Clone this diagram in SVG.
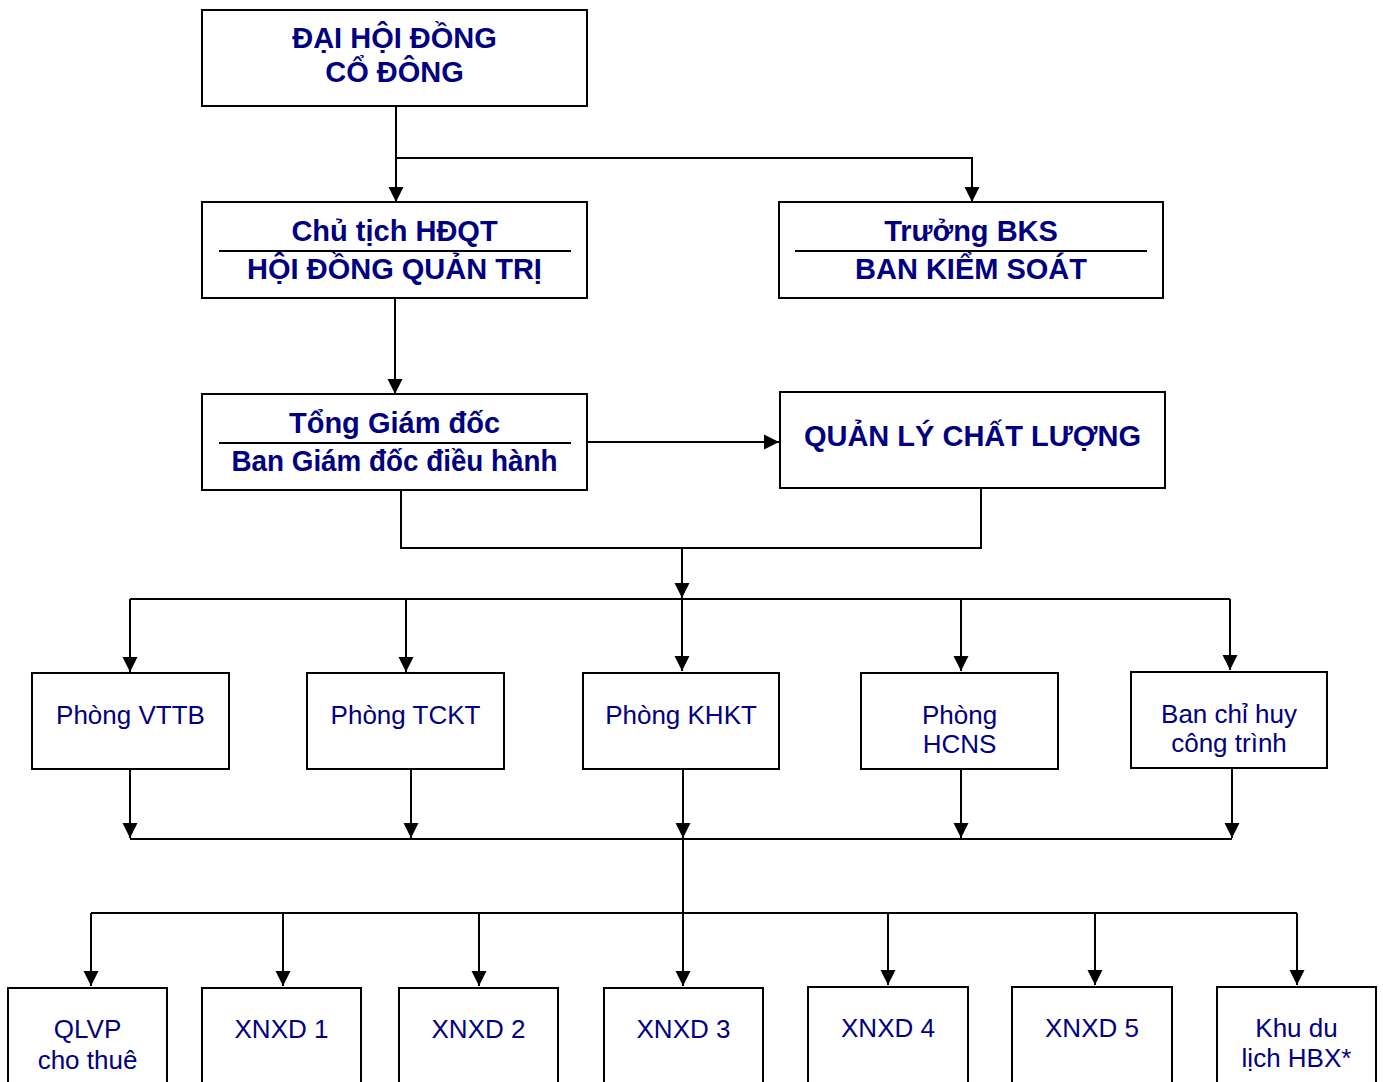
<svg xmlns="http://www.w3.org/2000/svg" width="1383" height="1082" viewBox="0 0 1383 1082">
<style>
.box{fill:#fff;stroke:#000;stroke-width:2}
.div{stroke:#000;stroke-width:2}
.b{font-family:"Liberation Sans",Arial,sans-serif;font-weight:bold;font-size:29px;fill:#000080;text-anchor:middle}
.r{font-family:"Liberation Sans",Arial,sans-serif;font-size:26px;fill:#000080;text-anchor:middle}
.c{fill:none;stroke:#000;stroke-width:2}
.a{marker-end:url(#ah)}
</style>
<defs>
<marker id="ah" markerUnits="userSpaceOnUse" markerWidth="16" markerHeight="16" refX="15" refY="7.5" orient="auto" viewBox="0 0 16 15">
<path d="M0,0 L15,7.5 L0,15 Z" fill="#000"/>
</marker>
</defs>
<rect width="1383" height="1082" fill="#fff"/>

<g id="connectors">
<path class="c a" d="M396,106 V202"/>
<path class="c a" d="M396,158 H972 V202"/>
<path class="c a" d="M395,298 V394"/>
<path class="c a" d="M587,442 H779"/>
<path class="c" d="M401,490 V548 H981 V488"/>
<path class="c a" d="M682,548 V598"/>
<path class="c" d="M130,599 H1230"/>
<path class="c a" d="M130,599 V672"/>
<path class="c a" d="M406,599 V672"/>
<path class="c a" d="M682,599 V671"/>
<path class="c a" d="M961,599 V671"/>
<path class="c a" d="M1230,599 V670"/>
<path class="c a" d="M130,769 V838"/>
<path class="c a" d="M411,769 V838"/>
<path class="c a" d="M683,769 V838"/>
<path class="c a" d="M961,769 V838"/>
<path class="c a" d="M1232,768 V838"/>
<path class="c" d="M130,839 H1232"/>
<path class="c a" d="M683,839 V986"/>
<path class="c" d="M91,913 H1297"/>
<path class="c a" d="M91,913 V986"/>
<path class="c a" d="M283,913 V986"/>
<path class="c a" d="M479,913 V986"/>
<path class="c a" d="M888,913 V985"/>
<path class="c a" d="M1095,913 V985"/>
<path class="c a" d="M1297,913 V985"/>
</g>

<g id="dhdcd">
<rect class="box" x="202" y="10" width="385" height="96"/>
<text class="b" x="394.5" y="48">ĐẠI HỘI ĐỒNG</text>
<text class="b" x="394.5" y="82">CỔ ĐÔNG</text>
</g>

<g id="hdqt">
<rect class="box" x="202" y="202" width="385" height="96"/>
<line class="div" x1="219" y1="251" x2="571" y2="251"/>
<text class="b" x="394.5" y="241">Chủ tịch HĐQT</text>
<text class="b" x="394.5" y="279">HỘI ĐỒNG QUẢN TRỊ</text>
</g>

<g id="bks">
<rect class="box" x="779" y="202" width="384" height="96"/>
<line class="div" x1="795" y1="251" x2="1147" y2="251"/>
<text class="b" x="971" y="241">Trưởng BKS</text>
<text class="b" x="971" y="279">BAN KIỂM SOÁT</text>
</g>

<g id="tgd">
<rect class="box" x="202" y="394" width="385" height="96"/>
<line class="div" x1="219" y1="443" x2="571" y2="443"/>
<text class="b" x="394.5" y="433">Tổng Giám đốc</text>
<text class="b" x="394.5" y="471" textLength="326" lengthAdjust="spacingAndGlyphs">Ban Giám đốc điều hành</text>
</g>

<g id="qlcl">
<rect class="box" x="780" y="392" width="385" height="96"/>
<text class="b" x="972.5" y="446">QUẢN LÝ CHẤT LƯỢNG</text>
</g>

<g id="vttb">
<rect class="box" x="32" y="673" width="197" height="96"/>
<text class="r" x="130.5" y="724">Phòng VTTB</text>
</g>
<g id="tckt">
<rect class="box" x="307" y="673" width="197" height="96"/>
<text class="r" x="405.5" y="724">Phòng TCKT</text>
</g>
<g id="khkt">
<rect class="box" x="583" y="673" width="196" height="96"/>
<text class="r" x="681" y="724">Phòng KHKT</text>
</g>
<g id="hcns">
<rect class="box" x="861" y="673" width="197" height="96"/>
<text class="r" x="959.5" y="724">Phòng</text>
<text class="r" x="959.5" y="753">HCNS</text>
</g>
<g id="bchct">
<rect class="box" x="1131" y="672" width="196" height="96"/>
<text class="r" x="1229" y="723">Ban chỉ huy</text>
<text class="r" x="1229" y="752">công trình</text>
</g>

<g id="qlvp">
<rect class="box" x="8" y="988" width="159" height="110"/>
<text class="r" x="87.5" y="1038">QLVP</text>
<text class="r" x="87.5" y="1069">cho thuê</text>
</g>
<g id="xnxd1">
<rect class="box" x="202" y="988" width="159" height="110"/>
<text class="r" x="281.5" y="1038">XNXD 1</text>
</g>
<g id="xnxd2">
<rect class="box" x="399" y="988" width="159" height="110"/>
<text class="r" x="478.5" y="1038">XNXD 2</text>
</g>
<g id="xnxd3">
<rect class="box" x="604" y="988" width="159" height="110"/>
<text class="r" x="683.5" y="1038">XNXD 3</text>
</g>
<g id="xnxd4">
<rect class="box" x="808" y="987" width="160" height="110"/>
<text class="r" x="888" y="1037">XNXD 4</text>
</g>
<g id="xnxd5">
<rect class="box" x="1012" y="987" width="160" height="110"/>
<text class="r" x="1092" y="1037">XNXD 5</text>
</g>
<g id="khudl">
<rect class="box" x="1217" y="987" width="159" height="110"/>
<text class="r" x="1296.5" y="1037">Khu du</text>
<text class="r" x="1296.5" y="1067">lịch HBX*</text>
</g>
</svg>
